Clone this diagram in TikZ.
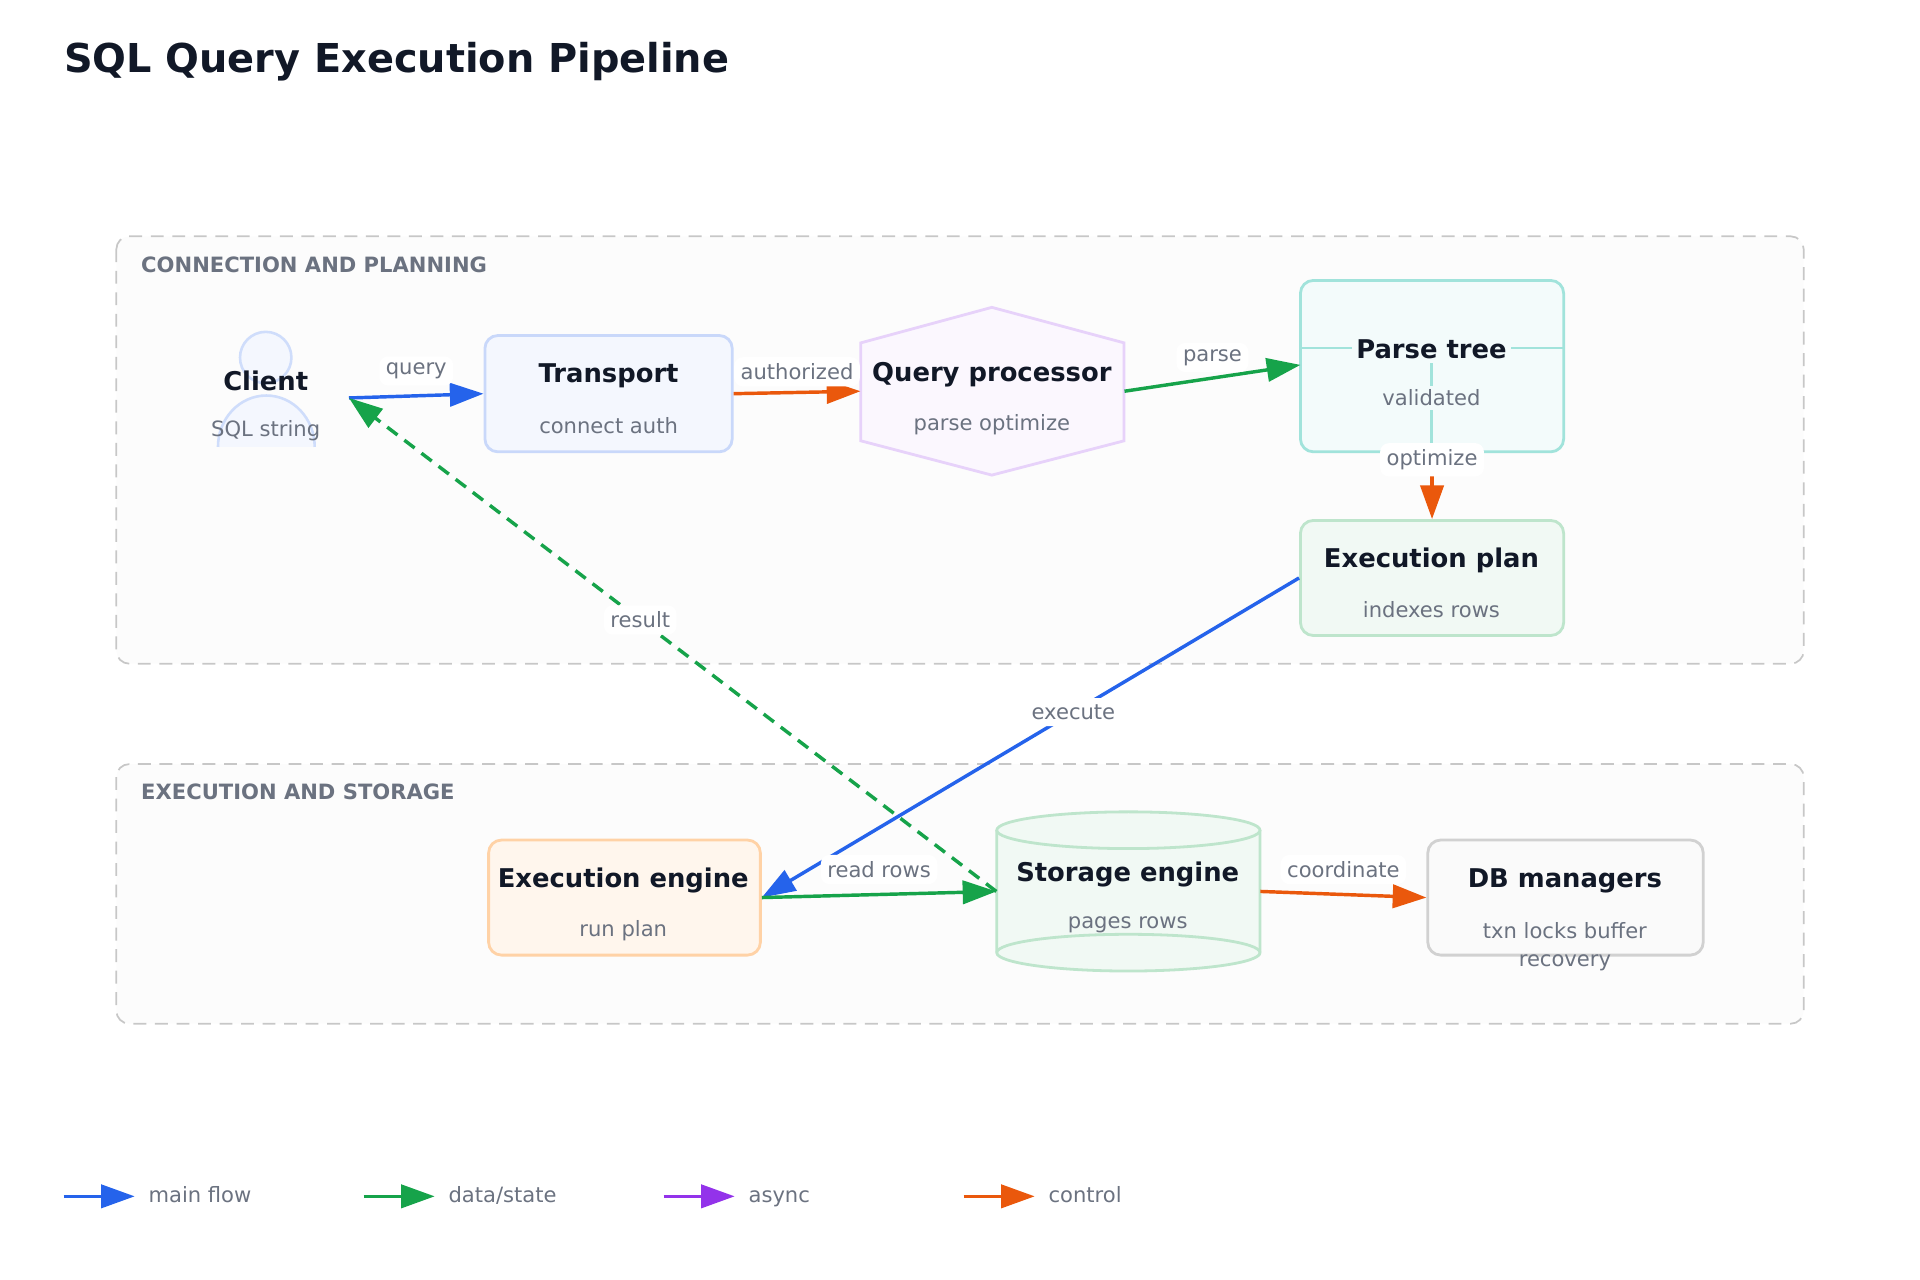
\documentclass[tikz,border=0pt]{standalone}
\usepackage{fontspec}
\setmainfont{DejaVu Sans}
\usetikzlibrary{positioning,arrows.meta}
\definecolor{cblue}{HTML}{2563EB}
\definecolor{cgreen}{HTML}{16A34A}
\definecolor{cpurple}{HTML}{9333EA}
\definecolor{corange}{HTML}{EA580C}
\definecolor{cteal}{HTML}{14B8A6}
\definecolor{ink}{HTML}{111827}
\definecolor{mute}{HTML}{6B7280}
\tikzset{
    group/.style = { draw=black!22,dash pattern=on 6pt off 4pt,line width=0.8pt,rounded corners=6pt,fill=black!1.2, },
    grouptitle/.style = { text=mute,font=\bfseries\fontsize{9.8}{11}\selectfont,anchor=west,inner sep=0, },
    box/.style = { draw,line width=1.3pt,rounded corners=6pt, },
    title/.style = { text=ink,font=\bfseries\fontsize{12}{14}\selectfont,inner sep=0, },
    sub/.style = { text=mute,font=\fontsize{9.8}{11}\selectfont,inner sep=0, },
    edge/.style = { line width=1.6pt,-{Triangle[length=5.5mm,width=3.8mm]}, },
    lab/.style = { fill=white,rounded corners=4pt,text=mute,font=\fontsize{9.8}{11}\selectfont,inner sep=3pt, },
    spot/.style = { inner sep=0,minimum size=0, },
}
\begin{document}
\begin{tikzpicture}[x=0.02cm,y=0.02cm]
    \useasboundingbox (0,0) rectangle (1568,-1045);

    \node [text=ink,font=\bfseries\fontsize{18.5}{21}\selectfont,anchor=west,inner sep=0] (heading) at (52,-50) {SQL Query Execution Pipeline};

    % groups
    \draw [group] (95,-193) rectangle (1473,-542);
    \node [grouptitle] (g1) at (115,-216) {CONNECTION AND PLANNING};
    \draw [group] (95,-624) rectangle (1473,-836);
    \node [grouptitle] (g2) at (115,-647) {EXECUTION AND STORAGE};

    % client
    \draw [draw=cblue!22,line width=1.2pt,fill=cblue!5] (217,-292) circle (21);
    \draw [draw=cblue!22,line width=1.2pt,fill=cblue!5] (178,-365) arc (180:0:39.5 and 42);
    \node [title] (client) at (217,-311) {Client};
    \node [sub] (clientsub) at (217,-352) {SQL string};

    % transport
    \node [box,draw=cblue!25,fill=cblue!5,minimum width=4.04cm,minimum height=1.9cm] (transport) at (497,-321.5) {};
    \node [title] at (497,-307) {Transport};
    \node [sub] at (497,-348) {connect auth};

    % query processor
    \draw [draw=cpurple!22,line width=1.3pt,fill=cpurple!4] (703,-280) -- (810,-251) -- (918,-280) -- (918,-360) -- (810,-388) -- (703,-360) -- cycle;
    \node [spot,minimum width=4.3cm,minimum height=2.74cm] (qp) at (810.5,-319.5) {};
    \node [title] at (810,-306) {Query processor};
    \node [sub] at (810,-347) {parse optimize};

    % parse tree
    \node [box,draw=cteal!40,fill=cteal!5,minimum width=4.3cm,minimum height=2.8cm] (tree) at (1169.5,-299) {};
    \draw [cteal!40,line width=1pt] (1062,-284) -- (1277,-284) (1169,-284) -- (1169,-369);
    \node [title,fill=cteal!5,inner sep=2pt] at (1169,-285) {Parse tree};
    \node [sub,fill=cteal!5,inner sep=2pt] at (1169,-325) {validated};

    % execution plan
    \node [box,draw=cgreen!28,fill=cgreen!6,minimum width=4.3cm,minimum height=1.88cm] (plan) at (1169.5,-472) {};
    \node [title] at (1169,-458) {Execution plan};
    \node [sub] at (1169,-498) {indexes rows};

    % execution engine
    \node [box,draw=orange!35,fill=orange!7,minimum width=4.44cm,minimum height=1.88cm] (engine) at (510,-733) {};
    \node [title] at (509,-719) {Execution engine};
    \node [sub] at (509,-760) {run plan};

    % storage engine
    \draw [draw=cgreen!28,line width=1.3pt,fill=cgreen!6] (814,-678) -- (814,-778) arc (180:360:107.5 and 15) -- (1029,-678);
    \draw [draw=cgreen!28,line width=1.3pt] (814,-778) arc (180:0:107.5 and 15);
    \draw [draw=cgreen!28,line width=1.3pt,fill=cgreen!6] (921.5,-678) ellipse (107.5 and 15);
    \node [spot,minimum width=4.3cm,minimum height=2.6cm] (storage) at (921.5,-728) {};
    \node [title] at (921,-714) {Storage engine};
    \node [sub] at (921,-755) {pages rows};

    % db managers
    \node [box,draw=black!18,fill=black!2,minimum width=4.5cm,minimum height=1.88cm] (db) at (1278.5,-733) {};
    \node [title] at (1278,-719) {DB managers};
    \node [sub] at (1278,-760) {txn locks buffer};
    \node [sub] at (1278,-786) {recovery};

    % connectors
    \coordinate (clientR) at (285,-325);
    \draw [edge,cblue] (clientR) -- (transport.west) node [lab,pos=0.5,above=4pt] {query};
    \draw [edge,corange] (transport.east) -- (qp.west) node [lab,midway,above=2pt] {authorized};
    \draw [edge,cgreen] (qp.east) -- (1062,-298) node [lab,midway,above=2pt] {parse};
    \draw [edge,corange] (tree.south) -- (plan.north) node [lab,pos=0.1] {optimize};
    \draw [edge,cblue] (plan.west) -- (engine.east) node [lab,pos=0.42] {execute};
    \draw [edge,cgreen] (engine.east) -- (storage.west) node [lab,midway,above=4pt] {read rows};
    \draw [edge,cgreen,dash pattern=on 6pt off 4pt] (storage.west) -- (clientR) node [lab,pos=0.55,solid] {result};
    \draw [edge,corange] (storage.east) -- (db.west) node [lab,midway,above=4pt] {coordinate};

    % legend
    \foreach \x/\c/\t in {52/cblue/main flow,297/cgreen/data\slash state,542/cpurple/async,787/corange/control} {
        \draw [edge,\c] (\x,-977) -- ++(58,0);
        \node [sub,anchor=base west] at (\x+69,-982) {\t};
    }
\end{tikzpicture}
\end{document}
